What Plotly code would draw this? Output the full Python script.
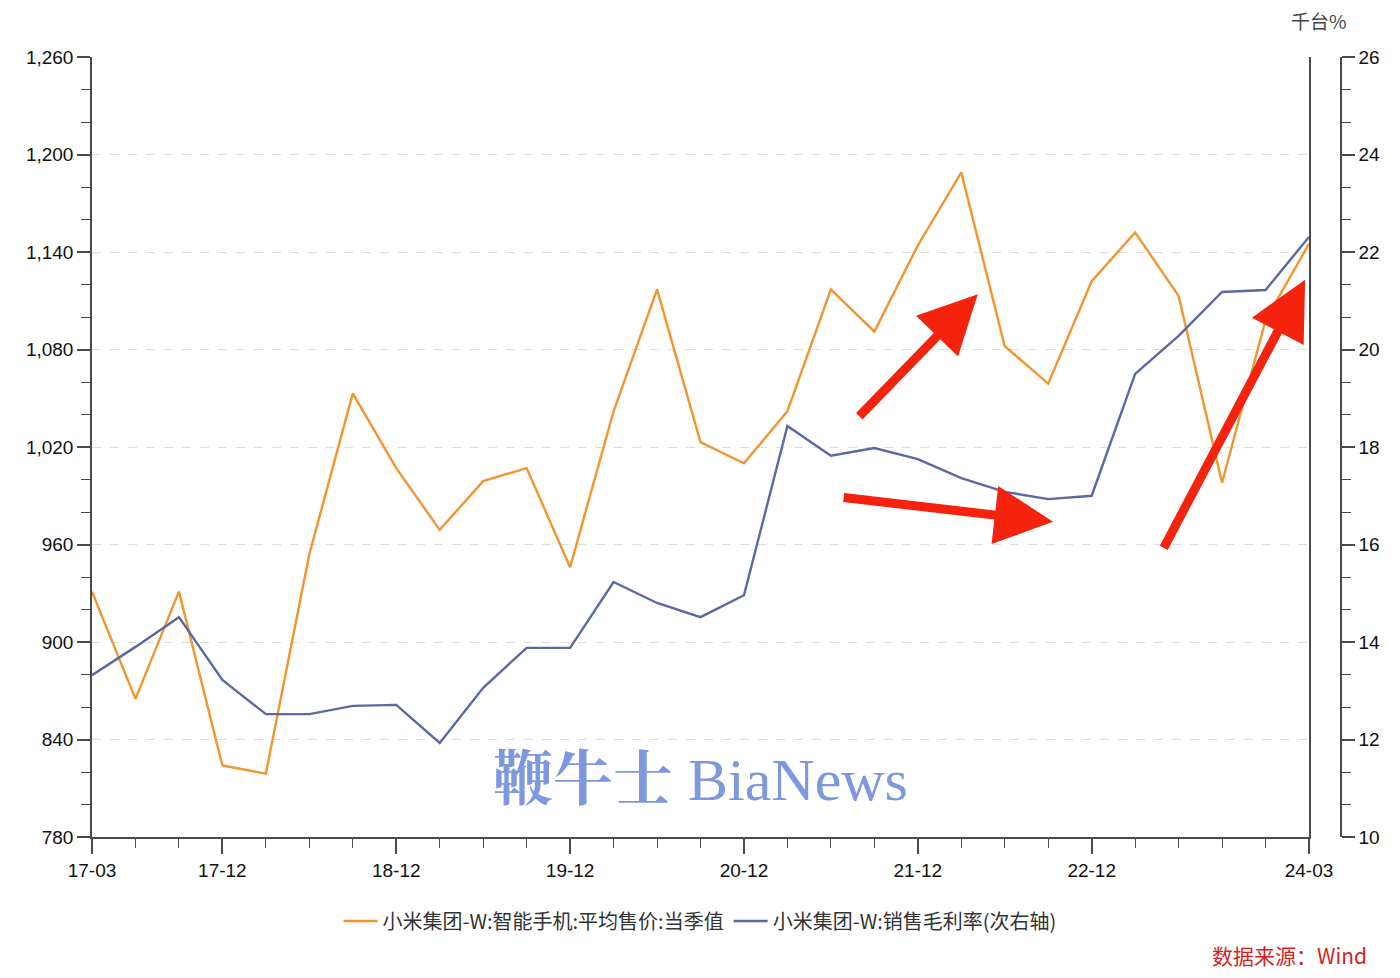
import plotly.graph_objects as go

quarters = ["17-03","17-06","17-09","17-12","18-03","18-06","18-09","18-12",
            "19-03","19-06","19-09","19-12","20-03","20-06","20-09","20-12",
            "21-03","21-06","21-09","21-12","22-03","22-06","22-09","22-12",
            "23-03","23-06","23-09","23-12","24-03"]
asp = [931, 865, 931, 824, 819, 954, 1053, 1007,
       969, 999, 1007, 946, 1042, 1117, 1023, 1010,
       1042, 1117, 1091, 1144, 1189, 1082, 1059, 1122,
       1152, 1113, 998, 1098, 1145]
margin_pct = [13.32, 13.9, 14.51, 13.22, 12.52, 12.52, 12.69, 12.71,
              11.93, 13.06, 13.88, 13.88, 15.23, 14.8, 14.51, 14.96,
              18.43, 17.82, 17.98, 17.75, 17.36, 17.08, 16.93, 17.0,
              19.5, 20.28, 21.18, 21.22, 22.31]
tick_labels = ["17-03","17-12","18-12","19-12","20-12","21-12","22-12","24-03"]
left_ticks = [780, 840, 900, 960, 1020, 1080, 1140, 1200, 1260]
right_ticks = [10, 12, 14, 16, 18, 20, 22, 24, 26]

xi = list(range(len(quarters)))
tick_idx = [quarters.index(t) for t in tick_labels]

ORANGE = "#F2952E"
BLUE = "#5B68A3"
AX = "#4A4A4A"
FONT = "Liberation Sans, Arial, Noto Sans CJK SC"

fig = go.Figure()
fig.add_trace(go.Scatter(x=xi, y=asp, mode="lines", name="小米集团-W:智能手机:平均售价:当季值",
                         line=dict(color=ORANGE, width=2.4), yaxis="y"))
fig.add_trace(go.Scatter(x=xi, y=margin_pct, mode="lines", name="小米集团-W:销售毛利率(次右轴)",
                         line=dict(color=BLUE, width=2.4), yaxis="y2"))

# page body has an 8px margin: work in screen coords, subtract offset
OFF = 8
W, H = 1400 - 2 * OFF, 978 - 2 * OFF
PL, PR_PLOT, PR_AX, PT, PB = 92, 1309, 1341, 57, 837   # screen coords
ml = PL - OFF
mt = PT - OFF
mr = (W + OFF) - PR_AX
mb = (H + OFF) - PB
pw = PR_AX - PL
ph = PB - PT
xdom_end = (PR_PLOT - PL) / pw

def px(xs):
    return (xs - PL) / pw

def py(ys):
    return (PB - ys) / ph

fig.update_layout(
    width=W, height=H,
    margin=dict(l=ml, r=mr, t=mt, b=mb),
    paper_bgcolor="white", plot_bgcolor="white",
    font=dict(family=FONT, size=19, color="#111111"),
    showlegend=True,
    legend=dict(orientation="h", x=px(700), xanchor="center",
                y=py(921), yanchor="middle",
                font=dict(size=20, color="#333333", family="Noto Sans CJK SC, Liberation Sans"),
                itemwidth=34, traceorder="normal", bgcolor="rgba(0,0,0,0)"),
    xaxis=dict(domain=[0, xdom_end], range=[0, len(quarters) - 1],
               tickmode="array", tickvals=tick_idx, ticktext=tick_labels,
               ticks="outside", ticklen=15, tickwidth=1.5, tickcolor=AX,
               showline=True, linecolor=AX, linewidth=1.5, showgrid=False, zeroline=False,
               minor=dict(tickmode="linear", tick0=0, dtick=1, ticks="outside",
                          ticklen=9, tickwidth=1.3, tickcolor=AX),
               tickfont=dict(size=19, color="#111111")),
    yaxis=dict(range=[780, 1260], tickmode="array", tickvals=left_ticks,
               tickformat=",d", ticks="outside", ticklen=13, tickwidth=1.5, tickcolor=AX,
               showline=True, mirror=True, linecolor=AX, linewidth=1.5,
               showgrid=True, gridcolor="#DDDDDD", griddash="dash", gridwidth=1,
               zeroline=False,
               minor=dict(tickmode="linear", tick0=780, dtick=20, ticks="outside",
                          ticklen=9, tickwidth=1.3, tickcolor=AX, showgrid=False),
               tickfont=dict(size=19, color="#111111")),
    yaxis2=dict(range=[10, 26], overlaying="y", side="right", anchor="free", position=1.0,
                tickmode="array", tickvals=right_ticks,
                ticks="outside", ticklen=13, tickwidth=1.5, tickcolor=AX,
                showline=True, linecolor=AX, linewidth=1.5, showgrid=False, zeroline=False,
                minor=dict(tickmode="linear", tick0=10, dtick=2/3, ticks="outside",
                           ticklen=9, tickwidth=1.3, tickcolor=AX),
                tickfont=dict(size=19, color="#111111")),
)

# unit label
fig.add_annotation(text="千台%", xref="paper", yref="paper",
                   x=px(1319), y=py(21), showarrow=False,
                   xanchor="center", yanchor="middle",
                   font=dict(size=19, color="#444444", family="Noto Sans CJK SC"))

# source
fig.add_annotation(text="数据来源：Wind", xref="paper", yref="paper",
                   x=px(1368), y=py(955), showarrow=False,
                   xanchor="right", yanchor="middle", borderpad=0,
                   font=dict(size=21, color="#D91E22", family="Noto Sans CJK SC"))

# watermark
fig.add_annotation(text="<b>鞭牛士</b> BiaNews", xref="paper", yref="paper",
                   x=px(700), y=py(780), showarrow=False,
                   xanchor="center", yanchor="middle",
                   font=dict(size=60, color="#7E98DF",
                             family="Liberation Serif, Noto Serif CJK SC, Noto Sans CJK SC"))

# red arrows (tail -> head) in data coords of x index / left axis
arrows = [((17.62, 1038), (20.38, 1114)),
          ((17.26, 989), (22.11, 974)),
          ((24.64, 957), (27.91, 1123))]
for (tx, ty), (hx, hy) in arrows:
    fig.add_annotation(x=hx, y=hy, ax=tx, ay=ty, xref="x", yref="y", axref="x", ayref="y",
                       text="", showarrow=True, arrowhead=2, arrowsize=1.3,
                       arrowwidth=9, arrowcolor="#F5230E", standoff=0)

fig.write_html("out.html")
